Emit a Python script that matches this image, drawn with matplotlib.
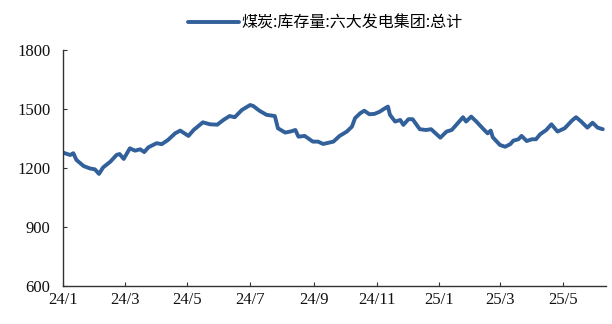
import matplotlib
matplotlib.use("Agg")
import matplotlib.pyplot as plt
import pandas as pd

# traced data: day offsets from 2024-01-01 and inventory values (万吨)
day_offsets = [0, 7, 10, 13, 20, 26, 31, 35, 39, 46, 52, 55, 59, 65, 70, 75, 79, 83, 91, 96,
               102, 109, 114, 122, 127, 136, 143, 150, 156, 162, 167, 174, 182, 185, 191, 198,
               206, 209, 216, 221, 226, 229, 235, 243, 248, 253, 263, 269, 276, 281, 284, 289,
               293, 298, 303, 308, 313, 316, 318, 323, 328, 331, 336, 340, 347, 353, 358, 367,
               373, 378, 383, 389, 392, 397, 402, 409, 413, 416, 418, 425, 430, 435, 438, 443,
               446, 451, 456, 460, 464, 470, 475, 481, 488, 495, 499, 504, 510, 515, 520, 525]
values = [1278, 1266, 1275, 1241, 1210, 1198, 1193, 1170, 1203, 1232, 1266, 1271, 1246, 1300,
          1288, 1295, 1281, 1305, 1326, 1321, 1342, 1376, 1390, 1363, 1393, 1432, 1422, 1420,
          1444, 1464, 1458, 1495, 1520, 1515, 1491, 1470, 1464, 1402, 1380, 1385, 1393, 1359,
          1363, 1334, 1334, 1322, 1334, 1363, 1385, 1410, 1453, 1478, 1491, 1473, 1475, 1486,
          1503, 1512, 1470, 1436, 1444, 1419, 1448, 1448, 1397, 1393, 1397, 1354, 1385, 1393,
          1422, 1458, 1436, 1461, 1436, 1397, 1376, 1390, 1356, 1317, 1308, 1321, 1339, 1346,
          1363, 1337, 1346, 1346, 1371, 1393, 1422, 1385, 1402, 1441, 1458, 1436, 1405, 1430,
          1405, 1397]
assert len(day_offsets) == len(values), (len(day_offsets), len(values))

legend_label = "煤炭:库存量:六大发电集团:总计"
yticks = [600, 900, 1200, 1500, 1800]
xtick_dates = ["2024-01-01", "2024-03-01", "2024-05-01", "2024-07-01", "2024-09-01",
               "2024-11-01", "2025-01-01", "2025-03-01", "2025-05-01"]
xtick_labels = ["24/1", "24/3", "24/5", "24/7", "24/9", "24/11", "25/1", "25/3", "25/5"]

dates = pd.Timestamp("2024-01-01") + pd.to_timedelta(day_offsets, unit="D")

fig = plt.figure(figsize=(6.12, 3.24), dpi=100)
ax = fig.add_axes([0.103, 0.117, 0.887, 0.729])
line, = ax.plot(dates, values, color="#31609A", lw=2.8, solid_joinstyle="round",
                solid_capstyle="round")

ax.set_ylim(600, 1800)
ax.set_yticks(yticks)
ax.set_xlim(pd.Timestamp("2024-01-01"), pd.Timestamp("2025-06-12"))
ax.set_xticks(pd.to_datetime(xtick_dates))
ax.set_xticklabels(xtick_labels)

for s in ["top", "right"]:
    ax.spines[s].set_visible(False)
for s in ["left", "bottom"]:
    ax.spines[s].set_color("#333333")
    ax.spines[s].set_linewidth(1.0)

ax.tick_params(axis="both", direction="in", length=3, width=0.8, color="#333333",
               labelsize=12, labelcolor="#111111")
ax.tick_params(axis="y", pad=9)
ax.tick_params(axis="x", pad=4)
for lab in ax.get_xticklabels() + ax.get_yticklabels():
    lab.set_family("Liberation Serif")

leg = fig.legend([line], [legend_label], loc="center", bbox_to_anchor=(0.532, 0.93),
                 frameon=False, handlelength=3.2, handletextpad=0.15,
                 prop={"family": ["Noto Sans CJK SC", "DejaVu Sans"], "size": 11.5})

fig.savefig("out.png", dpi=100)
